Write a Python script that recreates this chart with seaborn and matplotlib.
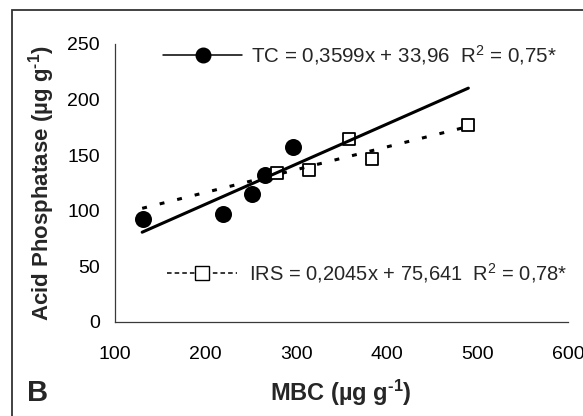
import matplotlib
matplotlib.use("Agg")
import matplotlib.pyplot as plt
import seaborn as sns
import numpy as np
import pandas as pd
from matplotlib.lines import Line2D
from matplotlib.patches import Rectangle

# ---- data ----
tc_mbc = [131, 219, 251, 266, 297]
tc_acp = [92.6, 97, 115, 132.5, 157]
irs_mbc = [279, 314, 358, 384, 490]
irs_acp = [133.7, 136.7, 165, 146.6, 177]

tc_slope, tc_intercept = 0.3599, 33.96
irs_slope, irs_intercept = 0.2045, 75.641
fit_range = [130, 490]

x_ticks = [100, 200, 300, 400, 500, 600]
y_ticks = [0, 50, 100, 150, 200, 250]

tc_label = "TC = 0,3599x + 33,96  R$^2$ = 0,75*"
irs_label = "IRS = 0,2045x + 75,641  R$^2$ = 0,78*"

# ---- style ----
sns.set_theme(style="white")
plt.rcParams['font.family'] = ['Liberation Sans', 'DejaVu Sans']
plt.rcParams['mathtext.fontset'] = 'custom'
plt.rcParams['mathtext.rm'] = 'Liberation Sans'
plt.rcParams['mathtext.it'] = 'Liberation Sans:italic'
plt.rcParams['mathtext.bf'] = 'Liberation Sans:bold'

W, H = 583, 416
fig = plt.figure(figsize=(W / 100, H / 100), dpi=100)
ax = fig.add_axes([115 / W, 1 - 322 / H, (568 - 115) / W, (322 - 44) / H])

pts_tc = pd.DataFrame({"MBC": tc_mbc, "ACP": tc_acp})
pts_irs = pd.DataFrame({"MBC": irs_mbc, "ACP": irs_acp})
fx = np.array(fit_range, dtype=float)
fit_tc = pd.DataFrame({"MBC": fx, "ACP": tc_slope * fx + tc_intercept})
fit_irs = pd.DataFrame({"MBC": fx, "ACP": irs_slope * fx + irs_intercept})

sns.scatterplot(data=pts_tc, x="MBC", y="ACP", ax=ax, marker="o", s=150,
                color="black", edgecolor="black", linewidth=0, zorder=2)
sns.scatterplot(data=pts_irs, x="MBC", y="ACP", ax=ax, marker="s", s=72,
                facecolor="white", edgecolor="black", linewidth=1.3, zorder=2)
sns.lineplot(data=fit_tc, x="MBC", y="ACP", ax=ax, color="black", lw=2.2,
             zorder=3)
sns.lineplot(data=fit_irs, x="MBC", y="ACP", ax=ax, color="black", lw=2.2,
             zorder=3)
ax.lines[-1].set_dashes((1.6, 4.3))
ax.lines[-1].set_dash_capstyle("butt")

ax.set_xlim(100, 600)
ax.set_ylim(0, 250)
ax.set_xticks(x_ticks)
ax.set_yticks(y_ticks)
ax.set_xlabel("")
ax.set_ylabel("")
for s in ["top", "right"]:
    ax.spines[s].set_visible(False)
for s in ["left", "bottom"]:
    ax.spines[s].set_color("#3a3a3a")
    ax.spines[s].set_linewidth(0.9)
ax.tick_params(axis="both", which="major", direction="out", length=4,
               width=0.9, color="#3a3a3a", labelsize=14, labelcolor="black")
ax.tick_params(axis="x", pad=13)
ax.tick_params(axis="y", pad=7)

# legends (equation annotations)
h_tc = Line2D([], [], color="black", lw=1.1, marker="o", ms=10.5,
              markerfacecolor="black")
h_irs = Line2D([], [], color="black", lw=1.1, ls=(0, (3, 2)), marker="s",
               ms=10, markerfacecolor="white", markeredgecolor="black",
               markeredgewidth=1.0)
leg1 = ax.legend([h_tc], [tc_label], loc="center left",
                 bbox_to_anchor=((163 - 115) / 453, (322 - 55) / 278),
                 frameon=False, fontsize=14.8, handlelength=3.85,
                 handletextpad=0.45, borderpad=0, borderaxespad=0, numpoints=1)
ax.add_artist(leg1)
leg2 = ax.legend([h_irs], [irs_label], loc="center left",
                 bbox_to_anchor=((167 - 115) / 453, (322 - 273) / 278),
                 frameon=False, fontsize=14.5, handlelength=3.5,
                 handletextpad=0.55, borderpad=0, borderaxespad=0, numpoints=1)

# axis titles and panel letter
fig.text(42 / W, 1 - 183 / H, "Acid Phosphatase (µg g$^{\\mathbf{‐1}}$)",
         rotation=90, ha="center", va="center", fontsize=16,
         fontweight="bold")
fig.text(341 / W, 1 - 393 / H, "MBC (µg g$^{\\mathbf{‐1}}$)",
         ha="center", va="center", fontsize=17, fontweight="bold")
fig.text(27 / W, 1 - 393 / H, "B", ha="left", va="center", fontsize=21,
         fontweight="bold")

# outer frame (extends past right/bottom edges)
fig.patches.append(Rectangle((12 / W, -0.2), 1.2, 1 - 10 / H + 0.2,
                             transform=fig.transFigure, fill=False,
                             edgecolor="#333333", lw=1.3))

fig.savefig("out.png", dpi=100)
